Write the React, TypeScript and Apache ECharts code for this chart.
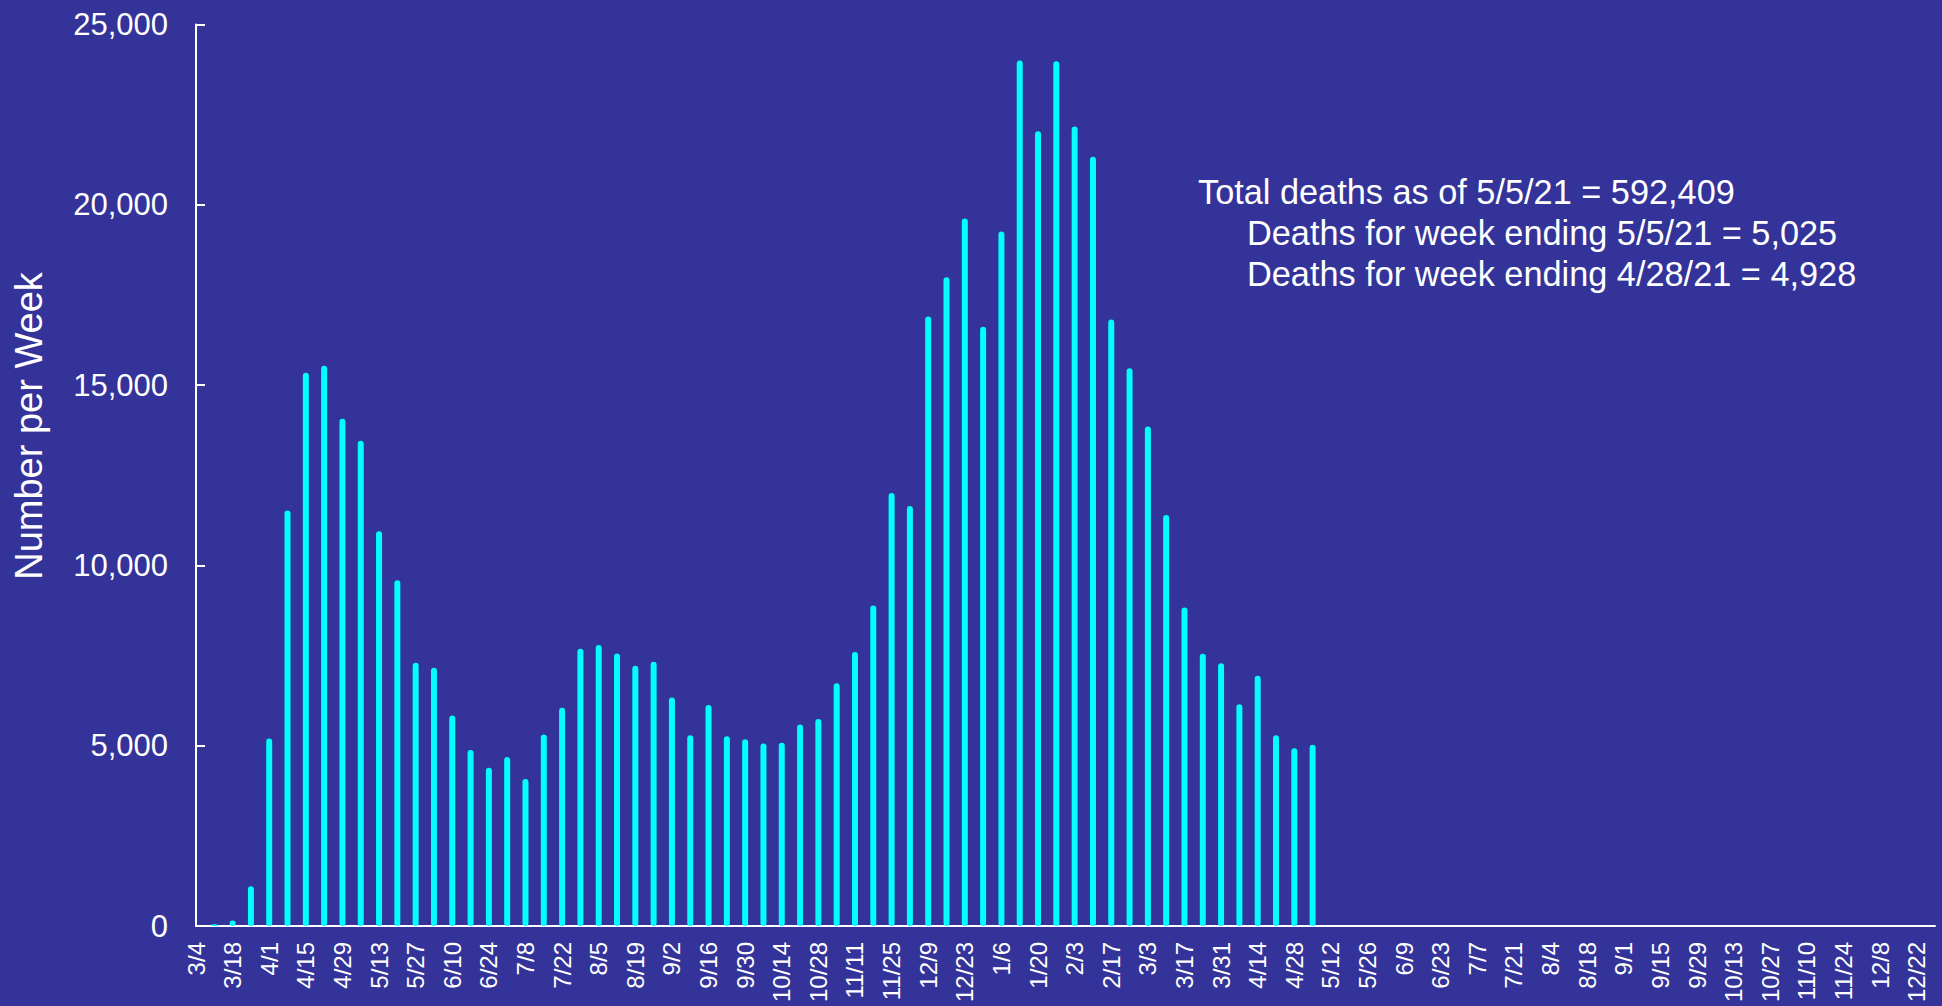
import React, { useEffect, useRef } from "react";
import * as echarts from "echarts";

const weeks: string[] = [
  "3/4", "3/11", "3/18", "3/25", "4/1", "4/8", "4/15", "4/22", "4/29", "5/6",
  "5/13", "5/20", "5/27", "6/3", "6/10", "6/17", "6/24", "7/1", "7/8", "7/15",
  "7/22", "7/29", "8/5", "8/12", "8/19", "8/26", "9/2", "9/9", "9/16", "9/23",
  "9/30", "10/7", "10/14", "10/21", "10/28", "11/4", "11/11", "11/18", "11/25", "12/2",
  "12/9", "12/16", "12/23", "12/30",
  "1/6", "1/13", "1/20", "1/27", "2/3", "2/10", "2/17", "2/24", "3/3", "3/10",
  "3/17", "3/24", "3/31", "4/7", "4/14", "4/21", "4/28", "5/5", "5/12", "5/19",
  "5/26", "6/2", "6/9", "6/16", "6/23", "6/30", "7/7", "7/14", "7/21", "7/28",
  "8/4", "8/11", "8/18", "8/25", "9/1", "9/8", "9/15", "9/22", "9/29", "10/6",
  "10/13", "10/20", "10/27", "11/3", "11/10", "11/17", "11/24", "12/1", "12/8", "12/15",
  "12/22", "12/29",
];

const deathsPerWeek: number[] = [
  0, 50, 150, 1100, 5200, 11520, 15340, 15540, 14070, 13460,
  10950, 9590, 7300, 7160, 5840, 4880, 4390, 4690, 4080, 5310,
  6050, 7690, 7790, 7560, 7220, 7330, 6335, 5288, 6130, 5260,
  5180, 5060, 5080, 5590, 5740, 6730, 7600, 8890, 12010, 11650,
  16900, 17990, 19620, 16620, 19260, 24000, 22040, 23980, 22170, 21330,
  16820, 15466, 13850, 11400, 8830, 7550, 7285, 6150, 6940, 5290,
  4928, 5025,
];

const yTicks = { min: 0, max: 25000, interval: 5000 };

const annotationLines: string[] = [
  "Total deaths as of 5/5/21 = 592,409",
  "Deaths for week ending 5/5/21 = 5,025",
  "Deaths for week ending 4/28/21 = 4,928",
];

const yAxisTitle = "Number per Week";

const FONT = "'Liberation Sans', Arial, Helvetica, sans-serif";
const BG = "#333399";

export default function App() {
  const ref = useRef<HTMLDivElement>(null);

  useEffect(() => {
    if (!ref.current) return;
    const chart = echarts.init(ref.current, null, { renderer: "svg" });
    const textStyleBase = {
      fill: "#ffffff",
      textVerticalAlign: "middle",
      verticalAlign: "middle",
    };
    const option: any = {
      animation: false,
      backgroundColor: BG,
      textStyle: { fontFamily: FONT },
      grid: { left: 196, right: 7, top: 24.5, bottom: 80, containLabel: false },
      xAxis: {
        type: "category",
        data: weeks,
        boundaryGap: false,
        axisLine: { show: true, lineStyle: { color: "#ffffff", width: 2 } },
        axisTick: { show: false },
        axisLabel: {
          interval: 1,
          rotate: 90,
          color: "#ffffff",
          fontSize: 24,
          fontFamily: FONT,
          margin: 16,
        },
        splitLine: { show: false },
      },
      yAxis: {
        type: "value",
        min: yTicks.min,
        max: yTicks.max,
        interval: yTicks.interval,
        axisLine: { show: true, lineStyle: { color: "#ffffff", width: 2 } },
        axisTick: { show: true, inside: true, length: 9, lineStyle: { color: "#ffffff", width: 2 } },
        axisLabel: {
          color: "#ffffff",
          fontSize: 31,
          fontFamily: FONT,
          margin: 28,
          formatter: (v: number) => v.toLocaleString("en-US"),
        },
        splitLine: { show: false },
      },
      series: [
        {
          type: "bar",
          data: deathsPerWeek,
          barWidth: 6,
          itemStyle: { color: "#00FFFF", borderRadius: 3 },
        },
      ],
      graphic: [
        {
          type: "text",
          x: 29,
          y: 426,
          rotation: Math.PI / 2,
          style: {
            ...textStyleBase,
            text: yAxisTitle,
            font: `38px ${FONT}`,
            textAlign: "center",
            align: "center",
          },
        },
        {
          type: "text",
          x: 1198,
          y: 192,
          style: {
            ...textStyleBase,
            text: annotationLines[0],
            font: `34.3px ${FONT}`,
            textAlign: "left",
            align: "left",
          },
        },
        {
          type: "text",
          x: 1247,
          y: 233,
          style: {
            ...textStyleBase,
            text: annotationLines[1],
            font: `34.3px ${FONT}`,
            textAlign: "left",
            align: "left",
          },
        },
        {
          type: "text",
          x: 1247,
          y: 274,
          style: {
            ...textStyleBase,
            text: annotationLines[2],
            font: `34.3px ${FONT}`,
            textAlign: "left",
            align: "left",
          },
        },
      ],
    };
    chart.setOption(option);
    return () => {
      chart.dispose();
    };
  }, []);

  return (
    <div
      ref={ref}
      style={{
        position: "absolute",
        left: 0,
        top: 0,
        width: "1942px",
        height: "1006px",
        background: BG,
      }}
    />
  );
}
